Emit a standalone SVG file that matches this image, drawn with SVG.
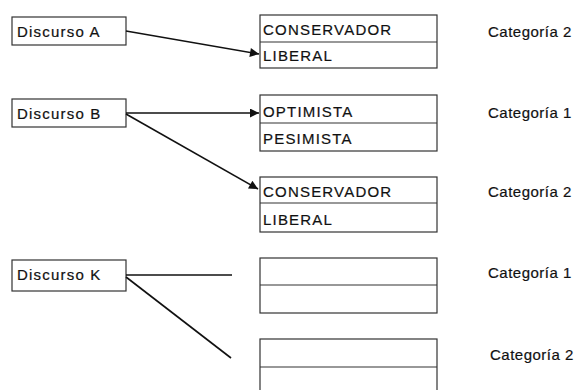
<svg xmlns="http://www.w3.org/2000/svg" width="580" height="390" viewBox="0 0 580 390">
<defs>
<marker id="ah" viewBox="0 0 10 10" refX="10" refY="5" markerWidth="11" markerHeight="9" markerUnits="userSpaceOnUse" orient="auto">
<path d="M0,0 L10,5 L0,10 Z" fill="#111"/>
</marker>
<style>
.box{fill:#fff;stroke:#333;stroke-width:1.2}
.div{stroke:#333;stroke-width:1.2}
.t{font-family:"Liberation Sans",Arial,sans-serif;font-size:15px;fill:#111;stroke:#111;stroke-width:0.2;letter-spacing:1.2px}
.c{font-family:"Liberation Sans",Arial,sans-serif;font-size:15px;fill:#111;stroke:#111;stroke-width:0.2;letter-spacing:0.5px}
.ln{stroke:#111;stroke-width:1.6;fill:none}
</style>
</defs>
<rect width="580" height="390" fill="#fff"/>
<g id="discurso-a"><rect class="box" x="12" y="17" width="114" height="28"/><text class="t" x="17" y="37" letter-spacing="0.8">Discurso A</text></g>
<g id="discurso-b"><rect class="box" x="12" y="99" width="114" height="28"/><text class="t" x="17" y="119" letter-spacing="0.8">Discurso B</text></g>
<g id="discurso-k"><rect class="box" x="12" y="260" width="114" height="31"/><text class="t" x="17" y="280" letter-spacing="0.8">Discurso K</text></g>

<g id="cat-box-1"><rect class="box" x="260" y="15" width="177" height="53"/><line class="div" x1="260" y1="42" x2="437" y2="42"/>
<text class="t" x="263" y="35">CONSERVADOR</text><text class="t" x="263" y="61">LIBERAL</text></g>
<g id="cat-box-2"><rect class="box" x="260" y="95" width="177" height="56"/><line class="div" x1="260" y1="123" x2="437" y2="123"/>
<text class="t" x="263" y="117">OPTIMISTA</text><text class="t" x="263" y="144">PESIMISTA</text></g>
<g id="cat-box-3"><rect class="box" x="260" y="177" width="177" height="55"/><line class="div" x1="260" y1="203" x2="437" y2="203"/>
<text class="t" x="263" y="197">CONSERVADOR</text><text class="t" x="263" y="225">LIBERAL</text></g>
<g id="cat-box-4"><rect class="box" x="260" y="258" width="177" height="55"/><line class="div" x1="260" y1="285" x2="437" y2="285"/></g>
<g id="cat-box-5"><rect class="box" x="260" y="339" width="177" height="60"/><line class="div" x1="260" y1="367" x2="437" y2="367"/></g>

<g id="labels">
<text class="c" x="488" y="37">Categoría 2</text>
<text class="c" x="488" y="118">Categoría 1</text>
<text class="c" x="488" y="197">Categoría 2</text>
<text class="c" x="488" y="278">Categoría 1</text>
<text class="c" x="490" y="360">Categoría 2</text>
</g>

<g id="connectors">
<line class="ln" x1="126" y1="31" x2="259" y2="54" marker-end="url(#ah)"/>
<line class="ln" x1="126" y1="113" x2="259" y2="113" marker-end="url(#ah)"/>
<line class="ln" x1="126" y1="114" x2="258" y2="189" marker-end="url(#ah)"/>
<line class="ln" x1="126" y1="275" x2="232" y2="275"/>
<line class="ln" x1="126" y1="277" x2="231" y2="358"/>
</g>
</svg>
